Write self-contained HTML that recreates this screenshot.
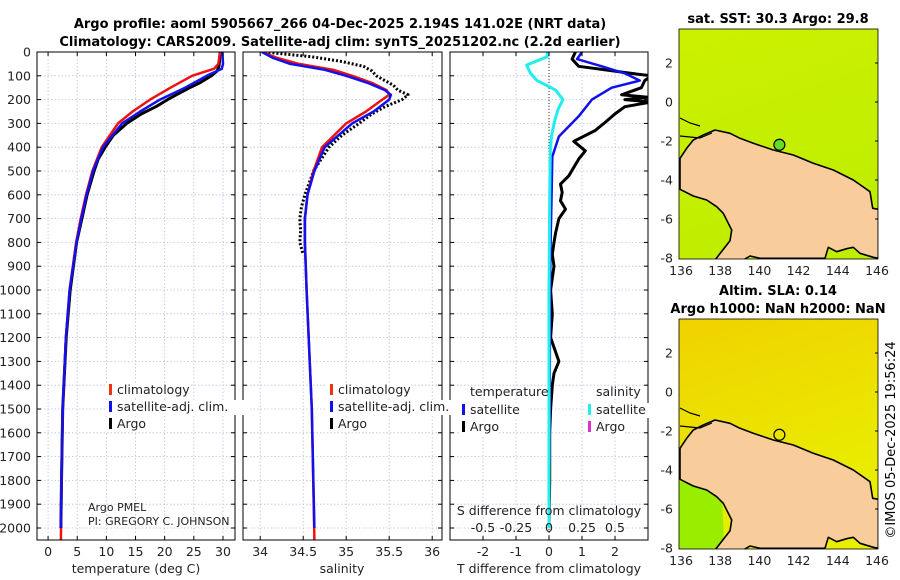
<!DOCTYPE html>
<html><head><meta charset="utf-8"><style>
body{margin:0;background:#fff;}
svg{display:block;font-family:"DejaVu Sans","Liberation Sans",sans-serif;}
</style></head><body>
<svg id="c" width="900" height="580" viewBox="0 0 900 580">
<g font-weight="bold" font-size="13" text-anchor="middle">
<text x="340" y="28">Argo profile: aoml 5905667_266 04-Dec-2025 2.194S 141.02E (NRT data)</text>
<text x="340" y="46">Climatology: CARS2009. Satellite-adj clim: synTS_20251202.nc (2.2d earlier)</text>
<text x="778" y="23">sat. SST: 30.3 Argo: 29.8</text>
<text x="778" y="295">Altim. SLA: 0.14</text>
<text x="778" y="313">Argo h1000: NaN h2000: NaN</text>
</g>
<g id="grid"></g>
<g id="maps"></g>
<g id="series"></g>
<g id="frames"></g>
<g id="labels" font-size="12.5" fill="#222"></g>
<text transform="translate(895,440) rotate(-90)" text-anchor="middle" font-size="13">©IMOS 05-Dec-2025 19:56:24</text>
</svg>
<script>
// ---------- data ----------
const tClimDepth=[0,50,70,100,150,200,250,300,400,500,600,700,800,1000,1200,1500,1800,2050];
const tClim=[29.5,29.2,28.5,24.7,21,17.5,14.5,12,9.2,7.6,6.5,5.6,4.8,3.7,3.05,2.5,2.3,2.2];
const tSatDepth=[0,50,70,100,150,200,250,300,400,500,600,700,800,1000,1200,1500,1800,2000];
const tSat=[29.9,30,29.8,27.2,23.5,19.2,15.8,12.7,9.4,7.7,6.6,5.7,4.9,3.7,3.05,2.5,2.3,2.2];
const tArgoDepth=[0,40,60,80,100,130,150,180,200,230,260,300,350,400,450,500,600,700,800,1000,1200,1500,1800,2000];
const tArgo=[29.5,29.4,29.3,29,28,26,24.3,22,20.5,18.5,16,13.5,11.2,9.8,8.6,7.9,6.7,5.8,4.9,3.8,3.1,2.5,2.3,2.2];
const sClimDepth=[0,25,50,75,100,130,160,180,200,250,300,400,500,600,700,800,1000,1500,2050];
const sClim=[34.02,34.2,34.45,34.85,35.07,35.3,35.47,35.5,35.42,35.23,35.0,34.72,34.62,34.55,34.52,34.52,34.54,34.6,34.63];
const sSatDepth=[0,25,50,75,100,130,160,180,200,250,300,400,500,600,700,800,1000,1500,2000];
const sSat=[34.02,34.15,34.35,34.75,35.0,35.25,35.45,35.52,35.5,35.32,35.07,34.75,34.63,34.55,34.52,34.52,34.54,34.6,34.63];
const sArgoDepth=[0,20,40,60,80,100,120,140,160,180,200,230,260,300,350,400,500,600,650,700,750,800,850];
const sArgo=[34.05,34.6,34.95,35.2,35.3,35.35,35.45,35.55,35.6,35.72,35.65,35.45,35.3,35.15,34.95,34.8,34.62,34.52,34.48,34.46,34.47,34.46,34.5];
const dTargoDepth=[0,30,60,90,100,120,150,180,190,200,210,230,260,290,330,375,415,450,485,520,555,590,625,660,700,760,800,850,900,1000,1100,1200,1300,1350,1400,1500,1600,1800,2000];
const dTargo=[0.8,0.7,0.9,2.5,3.1,2.9,2.8,2.2,3.0,2.3,3.1,2.3,2.0,1.75,1.4,0.75,1.1,0.9,0.75,0.6,0.35,0.4,0.35,0.5,0.3,0.2,0.15,0.1,0.15,0.05,0.1,0.05,0.3,0.15,0.1,0.05,0.02,0.02,0.0];
const dTsatDepth=[0,30,60,90,120,150,200,270,355,440,600,800,1000,1500,2000];
const dTsat=[1.0,0.85,1.6,2.3,2.75,1.9,1.3,0.9,0.3,0.1,0.08,0.05,0.03,0.02,0.0];
const dSsatDepth=[0,20,55,90,120,160,200,240,285,350,415,600,1000,1500,2000];
const dSsat=[-0.01,-0.015,-0.17,-0.14,-0.09,0.05,0.105,0.07,0.045,0.02,0.01,0.005,0,0,0];
const depthTicks=[0,100,200,300,400,500,600,700,800,900,1000,1100,1200,1300,1400,1500,1600,1700,1800,1900,2000];
const tTicks=[0,5,10,15,20,25,30];
const sTicks=[34,34.5,35,35.5,36];
const dTTicks=[-2,-1,0,1,2];
const dSTickLabels=["-0.5","-0.25","0","0.25","0.5"];
const dSTicks=[-0.5,-0.25,0,0.25,0.5];

// ---------- axes ----------
const NS="http://www.w3.org/2000/svg";
const TOP=52,BOT=540;
const yD=d=>TOP+d*0.238;
const P1={l:37,r:235},P2={l:243,r:442},P3={l:450,r:648};
const xT=v=>37+(v+1.9)*5.83;
const xS=v=>243+(v-33.8)*86;
const xDT=v=>549+v*33;
const xDS=v=>549+v*4*33;
function el(tag,attrs,parent){const e=document.createElementNS(NS,tag);for(const k in attrs)e.setAttribute(k,attrs[k]);parent.appendChild(e);return e;}
const G=document.getElementById('grid'),S=document.getElementById('series'),F=document.getElementById('frames'),L=document.getElementById('labels'),M=document.getElementById('maps');

const defs=el('defs',{},document.getElementById('c'));
[[P1,'cp1'],[P2,'cp2'],[P3,'cp3']].forEach(([p,id])=>{const cp=el('clipPath',{id:id},defs);el('rect',{x:p.l,y:TOP,width:p.r-p.l,height:BOT-TOP},cp);});

[P1,P2,P3].forEach((p,i)=>{
  depthTicks.forEach(d=>{const ln=el('line',{x1:p.l,x2:p.r,y1:yD(d),y2:yD(d),stroke:'#b8c0e8','stroke-width':0.8,'stroke-dasharray':'1.5,2'},G);
    
    el('line',{x1:p.l,x2:p.l+4,y1:yD(d),y2:yD(d),stroke:'#000'},F);el('line',{x1:p.r-4,x2:p.r,y1:yD(d),y2:yD(d),stroke:'#000'},F);});
});
function vgrid(ticks,fx,p,name){ticks.forEach(v=>{const ln=el('line',{x1:fx(v),x2:fx(v),y1:TOP,y2:BOT,stroke:'#b8c0e8','stroke-width':0.8,'stroke-dasharray':'1.5,2'},G);
  
  el('line',{x1:fx(v),x2:fx(v),y1:BOT-4,y2:BOT,stroke:'#000'},F);el('line',{x1:fx(v),x2:fx(v),y1:TOP,y2:TOP+4,stroke:'#000'},F);});}
vgrid(tTicks,xT,P1,'temp-gridline');vgrid(sTicks,xS,P2,'sal-gridline');vgrid(dTTicks,xDT,P3,'tdiff-gridline');
[P1,P2,P3].forEach((p,i)=>{const r=el('rect',{x:p.l,y:TOP,width:p.r-p.l,height:BOT-TOP,fill:'none',stroke:'#000','stroke-width':1},F);
  });
el('line',{x1:549,x2:549,y1:TOP,y2:BOT,stroke:'#333','stroke-width':1,'stroke-dasharray':'1,2'},G);

function txt(x,y,s,anchor,name,extra){const t=el('text',Object.assign({x:x,y:y,'text-anchor':anchor||'middle'},extra||{}),L);t.textContent=s;
  return t;}
depthTicks.forEach(d=>txt(31,yD(d)+4.5,String(d),'end','depth-tick-label'));
tTicks.forEach(v=>txt(xT(v),556,String(v),'middle','temp-tick-label'));
sTicks.forEach(v=>txt(xS(v),556,String(v),'middle','sal-tick-label'));
dTTicks.forEach(v=>txt(xDT(v),556,String(v),'middle','tdiff-tick-label'));
dSTicks.forEach((v,i)=>txt(xDS(v),532,dSTickLabels[i],'middle','sdiff-tick-label'));
txt(136,573,'temperature (deg C)','middle','temp-axis-title');
txt(342,573,'salinity','middle','sal-axis-title');
txt(549,573,'T difference from climatology','middle','tdiff-axis-title');
txt(549,515,'S difference from climatology','middle','sdiff-axis-title');
txt(88,511,'Argo PMEL','start','float-institution',{'font-size':'11'});
txt(88,525,'PI: GREGORY C. JOHNSON','start','float-pi',{'font-size':'11'});

function line(ds,vs,fx,color,w,clip,name,dash){const pts=ds.map((d,i)=>fx(vs[i]).toFixed(1)+','+yD(d).toFixed(1)).join(' ');
  const pl=el('polyline',{points:pts,fill:'none',stroke:color,'stroke-width':w,'stroke-linejoin':'round','clip-path':'url(#'+clip+')'},S);
  if(dash)pl.setAttribute('stroke-dasharray',dash);
  }
line(tArgoDepth,tArgo,xT,'#000',3,'cp1','temp-argo-line');
line(tClimDepth,tClim,xT,'#ee1111',2.5,'cp1','temp-climatology-line');
line(tSatDepth,tSat,xT,'#1111ee',2.5,'cp1','temp-satellite-line');
line(sArgoDepth,sArgo,xS,'#000',3,'cp2','sal-argo-line','2,2');
line(sClimDepth,sClim,xS,'#ee1111',2.5,'cp2','sal-climatology-line');
line(sSatDepth,sSat,xS,'#1111ee',2.5,'cp2','sal-satellite-line');
line(dTargoDepth,dTargo,xDT,'#000',3,'cp3','tdiff-argo-line');
line(dTsatDepth,dTsat,xDT,'#1111ee',2.5,'cp3','tdiff-satellite-line');
line(dSsatDepth,dSsat,xDS,'#22eeee',3,'cp3','sdiff-satellite-line');

function leg(x,y,color,label,name){el('rect',{x:x-3,y:y-9,width:label.length*6.6+12,height:15,fill:'#fff'},L);
  const m=el('rect',{x:x,y:y-8,width:3,height:11,fill:color},L);
  txt(x+8,y+2,label,'start',name);}
leg(109,392,'#ee3311','climatology','legend-temp-climatology');
leg(109,409,'#1111ee','satellite-adj. clim.','legend-temp-satellite');
leg(109,426,'#000','Argo','legend-temp-argo');
leg(330,392,'#ee3311','climatology','legend-sal-climatology');
leg(330,409,'#1111ee','satellite-adj. clim.','legend-sal-satellite');
leg(330,426,'#000','Argo','legend-sal-argo');
txt(470,396,'temperature','start','legend-temperature-heading');
txt(596,396,'salinity','start','legend-salinity-heading');
leg(462,412,'#1111ee','satellite','legend-tdiff-satellite');
leg(462,429,'#000','Argo','legend-tdiff-argo');
leg(588,412,'#22eeee','satellite','legend-sdiff-satellite');
leg(588,429,'#dd33cc','Argo','legend-sdiff-argo');

// ---------- maps ----------
const lonTicks=[136,138,140,142,144,146];
const latTicks=[2,0,-2,-4,-6,-8];
const MAPL=679,MAPR=878;
const xLon=v=>681+(v-136)*19.6;
const landZ=[[60,475],[80,445],[100,420],[130,405],[165,390],[210,400],[240,415],[280,430],[340,450],[400,465],[460,490],[520,510],[580,540],[630,575],[638,625],[655,628],[655,775],[640,772],[600,760],[580,742],[560,746],[530,755],[505,742],[495,775],[300,775],[270,768],[250,780],[165,780],[210,722],[215,690],[190,640],[170,620],[140,600],[100,588],[60,568]];
function map(yTop,yBot,lat2y,seaTop,seaBot,name,greenPatch){
  const cid=name+'-clip';const cp=el('clipPath',{id:cid},defs);el('rect',{x:MAPL,y:yTop,width:MAPR-MAPL,height:yBot-yTop},cp);
  const g=el('g',{},M);
  const gin=el('g',{'clip-path':'url(#'+cid+')'},g);
  const gid=name+'-grad';const lg=el('linearGradient',{id:gid,x1:0,y1:0,x2:0.3,y2:1},defs);
  el('stop',{offset:0,'stop-color':seaTop},lg);el('stop',{offset:1,'stop-color':seaBot},lg);
  el('rect',{x:MAPL,y:yTop,width:MAPR-MAPL,height:yBot-yTop,fill:'url(#'+gid+')'},gin);
  if(greenPatch){el('polygon',{points:'679,'+(lat2y+128)+' 705,'+(lat2y+135)+' 722,'+(lat2y+142)+' 724,'+(lat2y+190)+' 716,'+yBot+' 679,'+yBot,fill:greenPatch},gin);}
  const shift=lat2y-63;
  const pts=landZ.map(p=>(660+p[0]/3).toFixed(1)+','+(p[1]/3+shift).toFixed(1)).join(' ');
  const land=el('polygon',{points:pts,fill:'#f9cc9c',stroke:'#000','stroke-width':1.6,'stroke-linejoin':'round'},gin);
  
  el('path',{d:'M680,'+(118+shift)+' L690,'+(123+shift)+' L700,'+(126+shift)+' M680,'+(136+shift)+' L700,'+(138+shift)+' L712,'+(133+shift),fill:'none',stroke:'#000','stroke-width':1.2},gin);
  const mk=el('circle',{cx:xLon(141.02),cy:lat2y+(2+2.194)*19.5,r:5.5,fill:greenPatch?'none':'#66dd22',stroke:'#000','stroke-width':1.2},g);
  
  el('rect',{x:MAPL,y:yTop,width:MAPR-MAPL,height:yBot-yTop,fill:'none',stroke:'#000','stroke-width':0.8},g);
  lonTicks.forEach(v=>{const t=el('text',{x:xLon(v),y:yBot+16,'text-anchor':'middle','font-size':'12.5',fill:'#222'},g);t.textContent=String(v);
    });
  latTicks.forEach(v=>{const y=lat2y+(2-v)*19.5;const t=el('text',{x:673,y:y+4.5,'text-anchor':'end','font-size':'12.5',fill:'#222'},g);t.textContent=String(v);
    
    el('line',{x1:MAPR-3,x2:MAPR,y1:y,y2:y,stroke:'#000'},g);});
}
map(29,259,63,'#ccf000','#bfee00','sst-map',null);
map(319,549,353,'#f0d200','#e8f000','sla-map','#99ee00');
</script>
</body></html>
